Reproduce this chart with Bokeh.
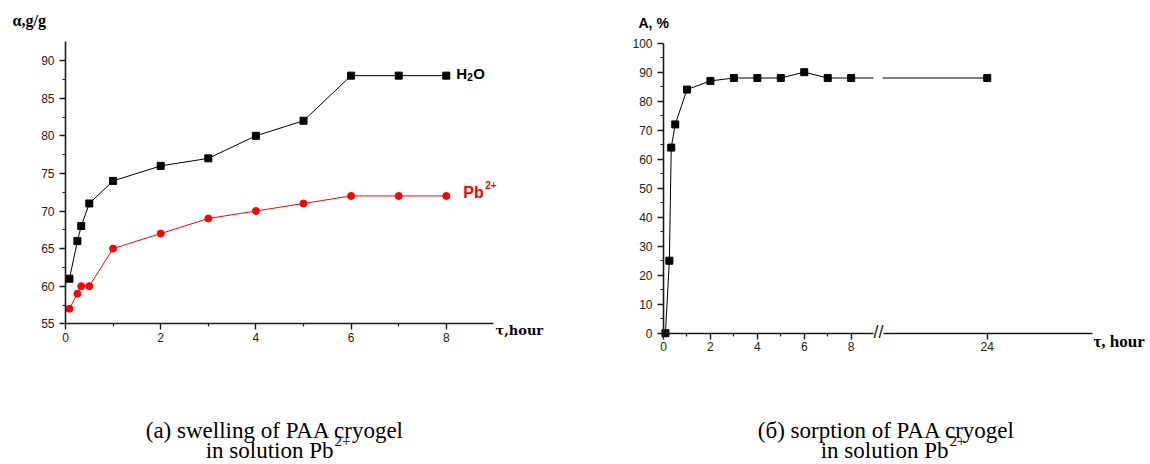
from bokeh.plotting import figure
from bokeh.models import Range1d, FixedTicker, Label
from bokeh.layouts import row
from bokeh.embed import file_html
from bokeh.resources import INLINE

# ---------------- data ----------------
swell_t = [0.083, 0.25, 0.33, 0.5, 1, 2, 3, 4, 5, 6, 7, 8]
swell_h2o = [61, 66, 68, 71, 74, 76, 77, 80, 82, 88, 88, 88]
swell_pb = [57, 59, 60, 60, 65, 67, 69, 70, 71, 72, 72, 72]

sorp_t = [0.083, 0.25, 0.33, 0.5, 1, 2, 3, 4, 5, 6, 7, 8, 24]
sorp_a = [0, 25, 64, 72, 84, 87, 88, 88, 88, 90, 88, 88, 88]

left_xticks = [0, 2, 4, 6, 8]
left_xminor = [1, 3, 5, 7]
left_yticks = [55, 60, 65, 70, 75, 80, 85, 90]
left_yminor = [57.5, 62.5, 67.5, 72.5, 77.5, 82.5, 87.5]

right_xticks = [0, 2, 4, 6, 8, 24]
right_xminor = [1, 3, 5, 7]
right_yticks = [0, 10, 20, 30, 40, 50, 60, 70, 80, 90, 100]
right_yminor = [5, 15, 25, 35, 45, 55, 65, 75, 85, 95]

# axis break on the right chart: values beyond the break are shifted left
BREAK_AT = 9.0
BREAK_SHIFT = 10.2


def brk(x):
    return x if x <= BREAK_AT else x - BREAK_SHIFT


# ---------------- layout geometry (pixels) ----------------
H = 464
W1, W2 = 568, 582
LX0, LKX, LY0, LKY, LYMIN = 65.0, 47.6, 323.3, 7.52, 55.0
RX0, RKX, RY0, RKY = 663.0, 23.46, 332.7, 2.9


def lx(px):
    return (px - LX0) / LKX


def ly(py):
    return LYMIN + (LY0 - py) / LKY


def rx(px):
    return (px - RX0) / RKX


def ry(py):
    return (RY0 - py) / RKY


TICK_FONT = "Liberation Sans"
AX_COLOR = "#1a1a1a"


def style_axes(p):
    p.xgrid.grid_line_color = None
    p.ygrid.grid_line_color = None
    p.outline_line_color = None
    for ax in (p.xaxis[0], p.yaxis[0]):
        ax.axis_line_width = 1.6
        ax.axis_line_color = AX_COLOR
        ax.major_tick_line_width = 1.4
        ax.major_tick_line_color = AX_COLOR
        ax.minor_tick_line_width = 1.2
        ax.minor_tick_line_color = AX_COLOR
        ax.major_tick_in = 0
        ax.major_tick_out = 6
        ax.minor_tick_in = 0
        ax.minor_tick_out = 3
        ax.major_label_text_font = TICK_FONT
        ax.major_label_text_font_size = "12px"
        ax.major_label_text_color = "#222222"
    p.yaxis[0].major_label_standoff = 5
    p.xaxis[0].major_label_standoff = 3


def lbl(p, text, x, y, size, font="Liberation Sans", bold=False, color="black",
        align="left", x_off=0, y_off=0):
    fix = 0.3 * size  # baseline correction (px, upwards)
    p.add_layout(Label(x=x, y=y, x_units="data", y_units="data", text=text,
                       x_offset=x_off, y_offset=y_off + fix,
                       text_font=font, text_font_size=f"{size}px",
                       text_font_style="bold" if bold else "normal",
                       text_color=color, text_align=align,
                       text_baseline="alphabetic"))


# ---------------- left chart: swelling ----------------
p1 = figure(width=W1, height=H, output_backend="svg", toolbar_location=None,
            x_range=Range1d(lx(0), lx(W1)), y_range=Range1d(ly(H), ly(0)),
            min_border=0)
style_axes(p1)
p1.xaxis[0].fixed_location = LYMIN
p1.yaxis[0].fixed_location = 0
p1.xaxis[0].bounds = (0, 9)
p1.yaxis[0].bounds = (55, 92.5)
p1.xaxis[0].ticker = FixedTicker(ticks=left_xticks, minor_ticks=left_xminor)
p1.yaxis[0].ticker = FixedTicker(ticks=left_yticks, minor_ticks=left_yminor)

p1.line(swell_t, swell_h2o, line_color="black", line_width=1)
p1.scatter(swell_t, swell_h2o, marker="square", size=7, fill_color="black", line_color="black")
p1.line(swell_t, swell_pb, line_color="red", line_width=1)
p1.scatter(swell_t, swell_pb, marker="circle", size=7, fill_color="red", line_color="red")

# series labels next to the last points
lbl(p1, "H", swell_t[-1], swell_h2o[-1], 15, bold=True, x_off=10, y_off=-2)
lbl(p1, "2", swell_t[-1], swell_h2o[-1], 10, bold=True, x_off=21, y_off=-4.5)
lbl(p1, "O", swell_t[-1], swell_h2o[-1], 15, bold=True, x_off=27, y_off=-2)
lbl(p1, "Pb", swell_t[-1], swell_pb[-1], 16, bold=True, color="red", x_off=17, y_off=-1)
lbl(p1, "2+", swell_t[-1], swell_pb[-1], 10, bold=True, color="red", x_off=39, y_off=8)

# axis titles
lbl(p1, "α,g/g", lx(12), ly(25), 16, font="Liberation Serif", bold=True)
lbl(p1, "τ,hour", lx(495), ly(334), 13, font="DejaVu Serif", bold=True)

# caption
lbl(p1, "(a) swelling of PAA cryogel", lx(274.5), ly(437), 23, font="Liberation Serif", align="center")
lbl(p1, "in solution Pb", lx(333), ly(457), 23, font="Liberation Serif", align="right")
lbl(p1, "2+", lx(334), ly(445), 15, font="Liberation Serif")

# ---------------- right chart: sorption ----------------
p2 = figure(width=W2, height=H, output_backend="svg", toolbar_location=None,
            x_range=Range1d(rx(W1), rx(W1 + W2)), y_range=Range1d(ry(H), ry(0)),
            min_border=0)
style_axes(p2)
p2.xaxis[0].fixed_location = 0
p2.yaxis[0].fixed_location = 0
p2.xaxis[0].bounds = (0, rx(1092))
p2.yaxis[0].bounds = (0, 100)
p2.xaxis[0].ticker = FixedTicker(ticks=[brk(t) for t in right_xticks], minor_ticks=right_xminor)
p2.xaxis[0].major_label_overrides = {brk(t): str(t) for t in right_xticks}
p2.yaxis[0].ticker = FixedTicker(ticks=right_yticks, minor_ticks=right_yminor)

sorp_u = [brk(t) for t in sorp_t]
p2.line(sorp_u, sorp_a, line_color="black", line_width=1)
# gap in the line at the axis break
p2.quad(left=rx(873), right=rx(882), bottom=84, top=92, fill_color="white", line_color=None)
p2.scatter(sorp_u, sorp_a, marker="square", size=7, fill_color="black", line_color="black")

# break marks on the x axis
p2.add_layout(Label(x=rx(878), y=0, x_units="data", y_units="data", text="//",
                    text_font="Liberation Sans", text_font_size="18px",
                    text_align="center", text_baseline="middle",
                    text_color=AX_COLOR, background_fill_color="white", y_offset=1))

lbl(p2, "A, %", rx(638), ry(26.7), 14, bold=True)
lbl(p2, "τ, hour", rx(1093), ry(346.5), 17, font="Liberation Serif", bold=True)

lbl(p2, "(б) sorption of PAA cryogel", rx(886), ry(437), 23, font="Liberation Serif", align="center")
lbl(p2, "in solution Pb", rx(948), ry(457), 23, font="Liberation Serif", align="right")
lbl(p2, "2+", rx(949), ry(445), 15, font="Liberation Serif")

layout = row(p1, p2)
open("out.html", "w").write(file_html(layout, INLINE))
